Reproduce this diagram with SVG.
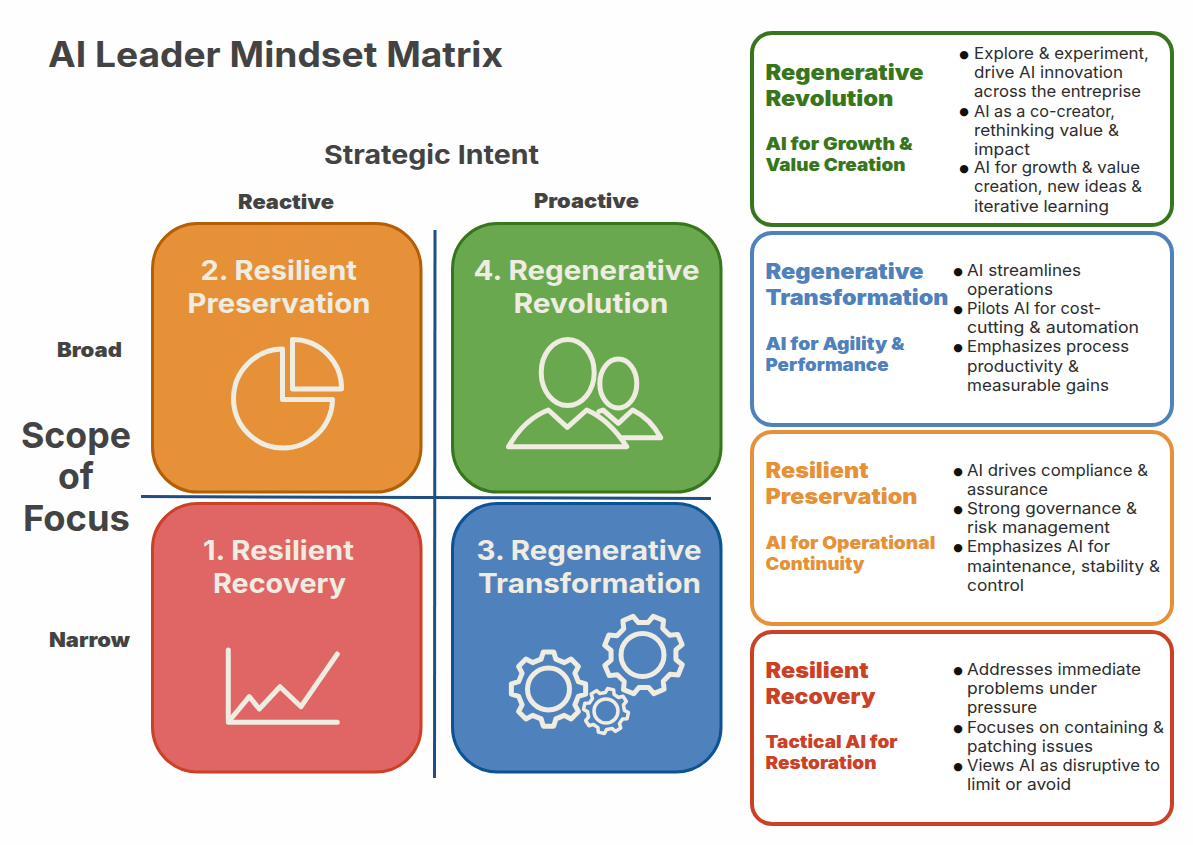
<svg xmlns="http://www.w3.org/2000/svg" width="1193" height="845" viewBox="0 0 1193 845">
<style>
text{font-family:Inter,"Open Sans","Liberation Sans",sans-serif}
.lab{fill:#434343;font-weight:700}
.ax{font-weight:900;font-size:20px;fill:#434343}
.q{stroke-width:3}
.qt{fill:#efece2;font-weight:700;font-size:27px}
.ic{fill:none;stroke:#efece2;stroke-width:5;stroke-linejoin:round;stroke-linecap:round}
.p{fill:#fff;stroke-width:4}
.h{font-weight:900;font-size:21px}
.s{font-weight:900;font-size:17.5px}
.b{font-size:16.5px;fill:#2c2c2c;font-weight:400}
.d{font-family:"DejaVu Sans",sans-serif;font-size:11px;fill:#111;text-anchor:middle}
.g{fill:#38761d}.bl{fill:#4f81bd}.o{fill:#e69138}.r{fill:#cc4125}
</style>
<defs>
<path id="gear" vector-effect="non-scaling-stroke" d="M13.9-99L19.8-79.5L42.2-70.3L60.2-79.9L79.9-60.2L70.3-42.2L79.5-19.8L99-13.9L99 13.9L79.5 19.8L70.3 42.2L79.9 60.2L60.2 79.9L42.2 70.3L19.8 79.5L13.9 99L-13.9 99L-19.8 79.5L-42.2 70.3L-60.2 79.9L-79.9 60.2L-70.3 42.2L-79.5 19.8L-99 13.9L-99-13.9L-79.5-19.8L-70.3-42.2L-79.9-60.2L-60.2-79.9L-42.2-70.3L-19.8-79.5L-13.9-99Z"/>
</defs>
<rect width="1193" height="845" fill="#fefefe"/>
<g id="title">
<text class="lab" x="48" y="67" font-size="35" textLength="455" lengthAdjust="spacingAndGlyphs">AI Leader Mindset Matrix</text>
</g>
<g id="axis-labels">
<text class="lab" x="324" y="163.5" font-size="26" textLength="215" lengthAdjust="spacingAndGlyphs">Strategic Intent</text>
<text class="ax" x="238" y="208.5" textLength="96" lengthAdjust="spacingAndGlyphs">Reactive</text>
<text class="ax" x="534" y="207.5" textLength="105" lengthAdjust="spacingAndGlyphs">Proactive</text>
<text class="ax" x="57" y="357" textLength="65" lengthAdjust="spacingAndGlyphs">Broad</text>
<text class="ax" x="49" y="647" textLength="81" lengthAdjust="spacingAndGlyphs">Narrow</text>
<text class="lab" x="21" y="447.5" font-size="36" textLength="110" lengthAdjust="spacingAndGlyphs">Scope</text>
<text class="lab" x="58" y="488.5" font-size="36" textLength="36" lengthAdjust="spacingAndGlyphs">of</text>
<text class="lab" x="23" y="530.5" font-size="36" textLength="107" lengthAdjust="spacingAndGlyphs">Focus</text>
</g>
<g id="connectors" fill="none" stroke="#1f4e85" stroke-width="3">
<line x1="435" y1="230" x2="434.5" y2="778"/>
<line x1="141" y1="496.5" x2="711" y2="498.5"/>
</g>
<g id="q2">
<rect class="q" x="152.5" y="223.5" width="268.5" height="268.5" rx="45" fill="#e69138" stroke="#b45f06"/>
<text class="qt" x="200.5" y="280" textLength="156.5" lengthAdjust="spacingAndGlyphs">2. Resilient</text>
<text class="qt" x="187.5" y="313" textLength="183" lengthAdjust="spacingAndGlyphs">Preservation</text>
<path class="ic" d="M282.5 349V399.5H332.5A49.5 49.5 0 1 1 282.5 349Z"/>
<path class="ic" d="M292.5 339.5V389H341.5A49 49 0 0 0 292.5 339.5Z"/>
</g>
<g id="q4">
<rect class="q" x="452.5" y="223.5" width="268.5" height="268.5" rx="45" fill="#6aa84f" stroke="#38761d"/>
<text class="qt" x="473.5" y="280" textLength="226" lengthAdjust="spacingAndGlyphs">4. Regenerative</text>
<text class="qt" x="513.5" y="313" textLength="155" lengthAdjust="spacingAndGlyphs">Revolution</text>
<ellipse class="ic" cx="567.7" cy="372.5" rx="26.5" ry="33"/>
<ellipse class="ic" cx="618.3" cy="383.5" rx="18.5" ry="24.5"/>
<path class="ic" d="M508.5 446.7C518 430 530 417 548.3 410L567.3 427.3L586.7 410C603 417 616 430 626.7 446.7Z"/>
<path class="ic" d="M599 411.5L603 410L618.3 423.3L632.7 410C645 416 654 425 660.7 437.7H622"/>
</g>
<g id="q1">
<rect class="q" x="152.5" y="503.5" width="268.5" height="268.5" rx="45" fill="#e06666" stroke="#cc4125"/>
<text class="qt" x="203" y="560" textLength="151" lengthAdjust="spacingAndGlyphs">1. Resilient</text>
<text class="qt" x="213" y="593" textLength="133" lengthAdjust="spacingAndGlyphs">Recovery</text>
<path class="ic" d="M228.3 650V722.3H337.3"/>
<path class="ic" d="M230 720L249.3 696.7L259.3 709L280 686.7L301 706.7L337.3 654"/>
</g>
<g id="q3">
<rect class="q" x="452.5" y="503.5" width="268.5" height="268.5" rx="45" fill="#4f81bd" stroke="#0b5394"/>
<text class="qt" x="476.5" y="560" textLength="225" lengthAdjust="spacingAndGlyphs">3. Regenerative</text>
<text class="qt" x="478" y="593" textLength="223" lengthAdjust="spacingAndGlyphs">Transformation</text>
<use href="#gear" class="ic" transform="translate(643.5 655) rotate(22) scale(.4)"/>
<circle class="ic" cx="642.5" cy="655" r="21.5"/>
<use href="#gear" class="ic" transform="translate(548.5 689) scale(.375)"/>
<circle class="ic" cx="548.5" cy="689" r="21"/>
<use href="#gear" class="ic" style="stroke-width:3.5" transform="translate(606 711) rotate(12) scale(.225)"/>
<circle class="ic" style="stroke-width:3.5" cx="606" cy="711" r="12"/>
</g>
<g id="panel-revolution">
<rect class="p" x="752" y="33" width="420" height="192" rx="20" stroke="#38761d"/>
<text class="h g" x="765.5" y="80" textLength="158" lengthAdjust="spacingAndGlyphs">Regenerative</text>
<text class="h g" x="765.5" y="106" textLength="128" lengthAdjust="spacingAndGlyphs">Revolution</text>
<text class="s g" x="765.5" y="149.5" textLength="147" lengthAdjust="spacingAndGlyphs">AI for Growth &amp;</text>
<text class="s g" x="765.5" y="170.5" textLength="140" lengthAdjust="spacingAndGlyphs">Value Creation</text>
<text class="d" x="964" y="58">●</text>
<text class="b" x="974" y="59" textLength="175" lengthAdjust="spacingAndGlyphs">Explore &amp; experiment,</text>
<text class="b" x="974" y="78" textLength="149" lengthAdjust="spacingAndGlyphs">drive AI innovation</text>
<text class="b" x="974" y="97" textLength="167" lengthAdjust="spacingAndGlyphs">across the entreprise</text>
<text class="d" x="964" y="115">●</text>
<text class="b" x="974" y="116.5" textLength="141" lengthAdjust="spacingAndGlyphs">AI as a co-creator,</text>
<text class="b" x="974" y="135.5" textLength="145" lengthAdjust="spacingAndGlyphs">rethinking value &amp;</text>
<text class="b" x="974" y="154.5" textLength="56" lengthAdjust="spacingAndGlyphs">impact</text>
<text class="d" x="964" y="172">●</text>
<text class="b" x="974" y="173" textLength="166" lengthAdjust="spacingAndGlyphs">AI for growth &amp; value</text>
<text class="b" x="974" y="192" textLength="168" lengthAdjust="spacingAndGlyphs">creation, new ideas &amp;</text>
<text class="b" x="974" y="212" textLength="135" lengthAdjust="spacingAndGlyphs">iterative learning</text>
</g>
<g id="panel-transformation">
<rect class="p" x="752" y="233" width="420" height="192" rx="20" stroke="#4f81bd"/>
<text class="h bl" x="765.5" y="279" textLength="158" lengthAdjust="spacingAndGlyphs">Regenerative</text>
<text class="h bl" x="765.5" y="305" textLength="183" lengthAdjust="spacingAndGlyphs">Transformation</text>
<text class="s bl" x="765.5" y="349.5" textLength="139" lengthAdjust="spacingAndGlyphs">AI for Agility &amp;</text>
<text class="s bl" x="765.5" y="370.5" textLength="123" lengthAdjust="spacingAndGlyphs">Performance</text>
<text class="d" x="958" y="275">●</text>
<text class="b" x="967" y="276" textLength="114" lengthAdjust="spacingAndGlyphs">AI streamlines</text>
<text class="b" x="967" y="295" textLength="86" lengthAdjust="spacingAndGlyphs">operations</text>
<text class="d" x="958" y="313">●</text>
<text class="b" x="967" y="314" textLength="134" lengthAdjust="spacingAndGlyphs">Pilots AI for cost-</text>
<text class="b" x="967" y="333" textLength="172" lengthAdjust="spacingAndGlyphs">cutting &amp; automation</text>
<text class="d" x="958" y="351">●</text>
<text class="b" x="967" y="352" textLength="162" lengthAdjust="spacingAndGlyphs">Emphasizes process</text>
<text class="b" x="967" y="371.5" textLength="112" lengthAdjust="spacingAndGlyphs">productivity &amp;</text>
<text class="b" x="967" y="390.5" textLength="142" lengthAdjust="spacingAndGlyphs">measurable gains</text>
</g>
<g id="panel-preservation">
<rect class="p" x="752" y="432" width="420" height="192" rx="20" stroke="#e69138"/>
<text class="h o" x="765.5" y="478" textLength="103" lengthAdjust="spacingAndGlyphs">Resilient</text>
<text class="h o" x="765.5" y="504" textLength="152" lengthAdjust="spacingAndGlyphs">Preservation</text>
<text class="s o" x="765.5" y="548.5" textLength="170" lengthAdjust="spacingAndGlyphs">AI for Operational</text>
<text class="s o" x="765.5" y="569.5" textLength="99" lengthAdjust="spacingAndGlyphs">Continuity</text>
<text class="d" x="958" y="475">●</text>
<text class="b" x="967" y="476" textLength="181" lengthAdjust="spacingAndGlyphs">AI drives compliance &amp;</text>
<text class="b" x="967" y="495" textLength="81" lengthAdjust="spacingAndGlyphs">assurance</text>
<text class="d" x="958" y="513">●</text>
<text class="b" x="967" y="514" textLength="170" lengthAdjust="spacingAndGlyphs">Strong governance &amp;</text>
<text class="b" x="967" y="533" textLength="143" lengthAdjust="spacingAndGlyphs">risk management</text>
<text class="d" x="958" y="551">●</text>
<text class="b" x="967" y="552" textLength="143" lengthAdjust="spacingAndGlyphs">Emphasizes AI for</text>
<text class="b" x="967" y="571.5" textLength="193" lengthAdjust="spacingAndGlyphs">maintenance, stability &amp;</text>
<text class="b" x="967" y="590.5" textLength="57" lengthAdjust="spacingAndGlyphs">control</text>
</g>
<g id="panel-recovery">
<rect class="p" x="752" y="632" width="420" height="192" rx="20" stroke="#cc4125"/>
<text class="h r" x="765.5" y="677.5" textLength="103" lengthAdjust="spacingAndGlyphs">Resilient</text>
<text class="h r" x="765.5" y="704" textLength="110" lengthAdjust="spacingAndGlyphs">Recovery</text>
<text class="s r" x="765.5" y="747.5" textLength="132" lengthAdjust="spacingAndGlyphs">Tactical AI for</text>
<text class="s r" x="765.5" y="768.5" textLength="111" lengthAdjust="spacingAndGlyphs">Restoration</text>
<text class="d" x="958" y="674">●</text>
<text class="b" x="967" y="675" textLength="174" lengthAdjust="spacingAndGlyphs">Addresses immediate</text>
<text class="b" x="967" y="694" textLength="130" lengthAdjust="spacingAndGlyphs">problems under</text>
<text class="b" x="967" y="713" textLength="70" lengthAdjust="spacingAndGlyphs">pressure</text>
<text class="d" x="958" y="732">●</text>
<text class="b" x="967" y="732.5" textLength="197" lengthAdjust="spacingAndGlyphs">Focuses on containing &amp;</text>
<text class="b" x="967" y="751.5" textLength="126" lengthAdjust="spacingAndGlyphs">patching issues</text>
<text class="d" x="958" y="770">●</text>
<text class="b" x="967" y="770.5" textLength="193" lengthAdjust="spacingAndGlyphs">Views AI as disruptive to</text>
<text class="b" x="967" y="789.5" textLength="104" lengthAdjust="spacingAndGlyphs">limit or avoid</text>
</g>
</svg>
